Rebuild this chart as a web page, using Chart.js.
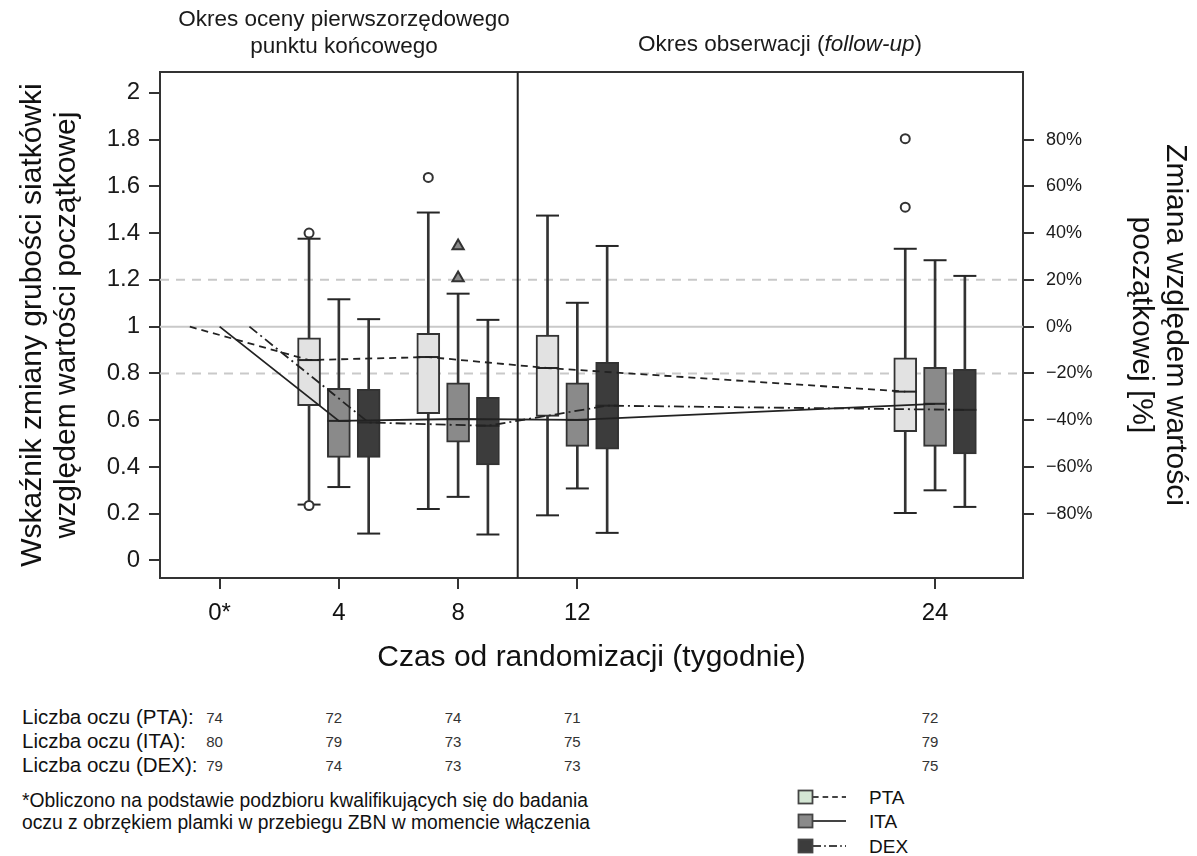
<!DOCTYPE html>
<html>
<head>
<meta charset="utf-8">
<script src="https://cdn.jsdelivr.net/npm/chart.js@4.4.1/dist/chart.umd.min.js"></script>
<style>
html,body{margin:0;padding:0;background:#fff;}
body{width:1197px;height:856px;position:relative;overflow:hidden;font-family:"Liberation Sans",Arial,Helvetica,sans-serif;color:#111;}
#wrap{position:absolute;left:0;top:0;width:1197px;height:690px;}
.t{position:absolute;white-space:nowrap;line-height:1;}
.c{transform:translate(-50%,-50%);}
.l{transform:translateY(-50%);}
.hdr{font-size:22.5px;color:#1a1a1a;}
.lab{font-size:20.5px;}
.num{font-size:15px;color:#333;}
.foot{font-size:19.3px;}
.lg{font-size:19px;}
</style>
</head>
<body>
<div id="wrap"><canvas id="c" width="1197" height="690"></canvas></div>

<div class="t c hdr" style="left:344px;top:19px;">Okres oceny pierwszorzędowego</div>
<div class="t c hdr" style="left:344px;top:46px;">punktu końcowego</div>
<div class="t c hdr" style="left:780px;top:44px;">Okres obserwacji (<i>follow-up</i>)</div>

<div id="table"></div>

<div class="t l foot" style="left:22px;top:801px;">*Obliczono na podstawie podzbioru kwalifikujących się do badania</div>
<div class="t l foot" style="left:22px;top:823px;">oczu z obrzękiem plamki w przebiegu ZBN w momencie włączenia</div>

<div id="legend"></div>

<script>
// ---------------- DATA ----------------
const weeks = [0, 4, 8, 12, 24];
const tickLabels = ['0*', '4', '8', '12', '24'];
const boxWeeks = [4, 8, 12, 24];
const baseline = 1.0;

const yTicks = [0, 0.2, 0.4, 0.6, 0.8, 1.0, 1.2, 1.4, 1.6, 1.8, 2.0];
const pctTicks = [0.2, 0.4, 0.6, 0.8, 1.0, 1.2, 1.4, 1.6, 1.8];
const refLevels = [0.8, 1.0, 1.2];

// PTA
const PTA_lo  = [0.239, 0.220, 0.193, 0.203];
const PTA_q1  = [0.662, 0.628, 0.616, 0.551];
const PTA_med = [0.857, 0.870, 0.823, 0.722];
const PTA_q3  = [0.952, 0.971, 0.964, 0.867];
const PTA_hi  = [1.376, 1.488, 1.475, 1.333];
const PTA_outWeeks = [4, 4, 8, 24, 24];
const PTA_outVals  = [1.400, 0.235, 1.638, 1.804, 1.511];

// ITA
const ITA_lo  = [0.314, 0.272, 0.308, 0.300];
const ITA_q1  = [0.441, 0.506, 0.488, 0.488];
const ITA_med = [0.597, 0.605, 0.601, 0.670];
const ITA_q3  = [0.736, 0.760, 0.760, 0.826];
const ITA_hi  = [1.117, 1.141, 1.102, 1.284];
const ITA_outWeeks = [8, 8];
const ITA_outVals  = [1.345, 1.208];

// DEX
const DEX_lo  = [0.115, 0.111, 0.118, 0.229];
const DEX_q1  = [0.441, 0.409, 0.476, 0.456];
const DEX_med = [0.590, 0.576, 0.662, 0.644];
const DEX_q3  = [0.732, 0.698, 0.847, 0.817];
const DEX_hi  = [1.032, 1.029, 1.345, 1.217];
const DEX_outWeeks = [];
const DEX_outVals  = [];

// Liczba oczu
const PTA_n = [74, 72, 74, 71, 72];
const ITA_n = [80, 79, 73, 75, 79];
const DEX_n = [79, 74, 73, 73, 75];

// ---------------- STYLE / LAYOUT ----------------
const X_MIN = -2, X_MAX = 26.95, Y_MIN = -0.075, Y_MAX = 2.089;
const INK = '#333333';
const series = [
  {name:'PTA', lo:PTA_lo, q1:PTA_q1, med:PTA_med, q3:PTA_q3, hi:PTA_hi, outW:PTA_outWeeks, outV:PTA_outVals, n:PTA_n,
   fill:'#e2e2e2', legFill:'#d4e6d4', dash:[7,5], dodge:-1, outStyle:'circle', outR:4.5, outFill:'#ffffff'},
  {name:'ITA', lo:ITA_lo, q1:ITA_q1, med:ITA_med, q3:ITA_q3, hi:ITA_hi, outW:ITA_outWeeks, outV:ITA_outVals, n:ITA_n,
   fill:'#8a8a8a', legFill:'#8a8a8a', dash:[], dodge:0, outStyle:'triangle', outR:6.5, outFill:'#8a8a8a'},
  {name:'DEX', lo:DEX_lo, q1:DEX_q1, med:DEX_med, q3:DEX_q3, hi:DEX_hi, outW:DEX_outWeeks, outV:DEX_outVals, n:DEX_n,
   fill:'#3c3c3c', legFill:'#3c3c3c', dash:[10,4,2,4], dodge:1, outStyle:'circle', outR:4.5, outFill:'#ffffff'}
];

const datasets = [];
// reference lines
refLevels.forEach(v => {
  datasets.push({type:'line', data:[{x:X_MIN,y:v},{x:X_MAX,y:v}], borderColor:'#c9c9c9', borderWidth:2,
    borderDash: v === baseline ? [] : [9,7], pointRadius:0, order:100});
});
// divider between periods (week 10)
datasets.push({type:'line', data:[{x:10,y:Y_MIN},{x:10,y:Y_MAX}], borderColor:'#222', borderWidth:2, pointRadius:0, order:95});

series.forEach(s => {
  datasets.push({type:'bar', label:s.name+' whisker', grouped:false, barThickness:2, backgroundColor:INK, borderWidth:0,
    data: boxWeeks.map((w,i)=>({x:w+s.dodge, y:[s.lo[i], s.hi[i]]})), order:80});
  datasets.push({type:'bar', label:s.name, grouped:false, barThickness:23, backgroundColor:s.fill, borderColor:INK,
    borderWidth:2, borderSkipped:false,
    data: boxWeeks.map((w,i)=>({x:w+s.dodge, y:[s.q1[i], s.q3[i]]})), order:70});
  const marks = [];
  boxWeeks.forEach((w,i)=>{
    marks.push({x:w+s.dodge, y:s.lo[i]});
    marks.push({x:w+s.dodge, y:s.hi[i]});
    marks.push({x:w+s.dodge, y:s.med[i]});
  });
  datasets.push({type:'scatter', data:marks, pointStyle:'line', pointRadius:11.5, pointBorderWidth:2,
    pointBorderColor:'#262626', showLine:false, order:60});
  datasets.push({type:'line', label:s.name+' trend',
    data:[{x:weeks[0]+s.dodge, y:baseline}].concat(boxWeeks.map((w,i)=>({x:w+s.dodge, y:s.med[i]}))),
    borderColor:'#222', borderWidth:1.8, borderDash:s.dash, pointRadius:0, tension:0, order:50});
  if (s.outW.length) {
    datasets.push({type:'scatter', data:s.outW.map((w,i)=>({x:w+s.dodge, y:s.outV[i]})), pointStyle:s.outStyle,
      pointRadius:s.outR, pointBackgroundColor:s.outFill, pointBorderColor:INK, pointBorderWidth:2, showLine:false, order:40});
  }
});

const fmtY = v => String(Number(v.toFixed(1)));
const fmtPct = v => { const p = Math.round((v - 1) * 100); return (p < 0 ? '\u2212' + (-p) : p) + '%'; };
const FONT = '"Liberation Sans", Arial, sans-serif';

const chart = new Chart(document.getElementById('c'), {
  type:'scatter',
  data:{datasets},
  options:{
    responsive:false, animation:false, events:[], devicePixelRatio:1,
    layout:{padding:{top:72, left:0, right:0, bottom:0}},
    plugins:{legend:{display:false}, tooltip:{enabled:false}},
    scales:{
      x:{type:'linear', position:'bottom', min:X_MIN, max:X_MAX, offset:false,
        afterBuildTicks: sc => { sc.ticks = weeks.map(v=>({value:v})); },
        afterFit: sc => { sc.height = 112; },
        ticks:{autoSkip:false, maxRotation:0, padding:10, color:'#111', font:{family:FONT, size:24},
          callback: v => tickLabels[weeks.indexOf(v)] },
        grid:{display:true, offset:false, drawOnChartArea:false, drawTicks:true, tickLength:11, color:INK, lineWidth:2},
        border:{display:true, color:INK, width:2},
        title:{display:true, text:'Czas od randomizacji (tygodnie)', color:'#111', font:{family:FONT, size:30, lineHeight:1.2},
          padding:{top:0, bottom:14}}
      },
      xTop:{type:'linear', position:'top', min:X_MIN, max:X_MAX, offset:false,
        afterFit: sc => { sc.height = 0; },
        ticks:{display:false}, grid:{display:false, drawTicks:false, offset:false},
        border:{display:true, color:INK, width:2}
      },
      y:{type:'linear', position:'left', min:Y_MIN, max:Y_MAX,
        afterBuildTicks: sc => { sc.ticks = yTicks.map(v=>({value:v})); },
        afterFit: sc => { sc.width = 160; },
        ticks:{padding:9, color:'#1a1a1a', font:{family:FONT, size:24}, callback: v => fmtY(v)},
        grid:{display:true, drawOnChartArea:false, drawTicks:true, tickLength:11, color:INK, lineWidth:2},
        border:{display:true, color:INK, width:2},
        title:{display:true, text:['Wskaźnik zmiany grubości siatkówki','względem wartości początkowej'], color:'#111',
          font:{family:FONT, size:30, lineHeight:1.13}, padding:{top:16, bottom:0}}
      },
      y2:{type:'linear', position:'right', min:Y_MIN, max:Y_MAX,
        afterBuildTicks: sc => { sc.ticks = pctTicks.map(v=>({value:v})); },
        afterFit: sc => { sc.width = 174; },
        ticks:{padding:12, color:'#1a1a1a', font:{family:FONT, size:18}, callback: v => fmtPct(v)},
        grid:{display:true, drawOnChartArea:false, drawTicks:true, tickLength:11, color:INK, lineWidth:2},
        border:{display:true, color:INK, width:2},
        title:{display:true, text:['Zmiana względem wartości','początkowej [%]'], color:'#111',
          font:{family:FONT, size:30, lineHeight:1.13}, padding:{top:5, bottom:0}}
      }
    }
  }
});

// ---- table of eye counts (positions from the x scale) ----
const xs = chart.scales.x;
const rowY = [717, 741, 765];
let html = '';
series.forEach((s, r) => {
  html += `<div class="t l lab" style="left:22px;top:${rowY[r]}px;">Liczba oczu (${s.name}):</div>`;
  weeks.forEach((w, i) => {
    const px = xs.getPixelForValue(w) - 5;
    html += `<div class="t c num" style="left:${px}px;top:${rowY[r]}px;">${s.n[i]}</div>`;
  });
});
document.getElementById('table').innerHTML = html;

// ---- legend ----
const legY = [797, 821, 846];
let lh = '';
series.forEach((s, r) => {
  const dash = s.dash.length ? `stroke-dasharray="${s.dash.map(d=>d*0.8).join(',')}"` : '';
  lh += `<svg style="position:absolute;left:796px;top:${legY[r]-9}px;" width="54" height="18">
    <line x1="17" y1="9" x2="50" y2="9" stroke="#444" stroke-width="1.8" ${dash}/>
    <rect x="2.5" y="2.5" width="14" height="13" fill="${s.legFill}" stroke="#444" stroke-width="1.8"/>
  </svg>`;
  lh += `<div class="t l lg" style="left:869px;top:${legY[r]}px;">${s.name}</div>`;
});
document.getElementById('legend').innerHTML = lh;
</script>
</body>
</html>
